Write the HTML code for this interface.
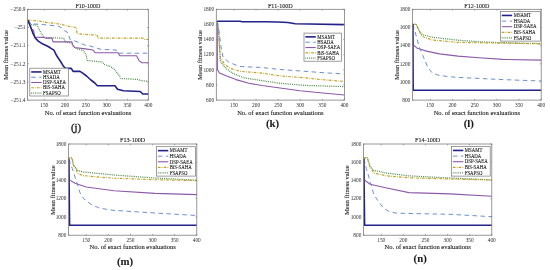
<!DOCTYPE html>
<html><head><meta charset="utf-8"><style>
html,body{margin:0;padding:0;background:#fff;}
body{width:550px;height:270px;overflow:hidden;}
svg{display:block;filter:blur(0.5px);}
</style></head><body>
<svg width="550" height="270" viewBox="0 0 550 270">
<rect width="550" height="270" fill="#fff"/>
<style>text{font-family:"Liberation Serif",serif;fill:#1a1a1a;stroke:#1a1a1a;stroke-width:0.1;paint-order:stroke;} .tk text{fill:#2a2a2a;stroke:#2a2a2a;stroke-width:0px}</style>
<clipPath id="c0"><rect x="27.6" y="8.3" width="121.20000000000002" height="91.8"/></clipPath>
<g clip-path="url(#c0)">
<polyline points="27.70,20.10 31.70,24.80 36.90,24.80 39.10,29.30 41.30,33.70 44.30,37.40 64.00,38.30 65.00,41.90 71.90,43.30 73.30,46.30 76.10,48.50 83.50,50.70 86.30,55.40 87.20,60.50 102.00,62.00 104.80,64.60 110.60,66.50 114.30,69.30 118.00,73.90 121.00,78.50 137.40,79.40 142.00,80.80 148.40,81.30" fill="none" stroke="#3b7d33" stroke-width="1.25" stroke-dasharray="0.8,1.05" stroke-linejoin="round"/>
<polyline points="27.70,20.10 39.80,21.10 47.20,22.60 54.60,23.30 60.00,24.10 67.40,26.00 76.30,27.50 77.00,33.70 90.00,34.80 97.00,35.00 98.00,38.10 143.00,38.10 144.00,39.50 148.40,39.50" fill="none" stroke="#c0a024" stroke-width="1.15" stroke-dasharray="2.6,1.2,0.8,1.2" stroke-linejoin="round"/>
<polyline points="27.70,20.10 31.70,29.30 33.60,30.20 34.60,37.20 44.30,37.40 45.50,38.10 52.00,38.10 53.00,41.90 71.90,41.90 72.50,44.50 74.50,47.50 85.40,48.90 93.00,50.00 95.00,52.60 118.00,52.80 119.80,55.70 136.50,55.70 139.30,60.90 142.00,62.80 148.40,62.80" fill="none" stroke="#8d5aa8" stroke-width="1.1" stroke-linejoin="round"/>
<polyline points="27.70,20.10 30.90,24.10 37.00,24.10 45.00,24.80 58.00,26.00 62.00,28.00 64.40,30.70 67.00,32.00 68.90,34.40 69.50,38.90 75.00,41.00 80.70,43.30 86.00,45.60 90.00,46.00 95.00,47.50 101.00,49.40 116.00,50.00 117.50,53.20 148.40,53.20" fill="none" stroke="#6b8fd0" stroke-width="1.0" stroke-dasharray="4.5,3.5" stroke-linejoin="round"/>
<polyline points="27.70,20.10 29.00,23.00 30.90,27.80 33.10,33.70 35.40,38.10 38.30,41.10 42.80,44.10 45.00,45.00 47.20,46.00 50.20,47.80 53.90,50.20 56.70,55.80 60.60,61.50 63.50,66.30 65.40,68.40 71.30,68.40 73.10,71.40 80.00,71.40 82.70,73.10 86.50,76.00 90.90,80.00 94.80,83.00 97.40,85.70 115.00,85.70 117.50,89.20 123.40,90.80 140.20,91.50 142.80,94.00 148.40,94.00" fill="none" stroke="#22228a" stroke-width="1.6" stroke-linejoin="round"/>
</g>
<rect x="27.6" y="9.3" width="120.70000000000002" height="90.8" fill="none" stroke="#767676" stroke-width="0.75"/>
<path d="M44.25,100.1v-1.3M44.25,9.3v1.3M65.06,100.1v-1.3M65.06,9.3v1.3M85.87,100.1v-1.3M85.87,9.3v1.3M106.68,100.1v-1.3M106.68,9.3v1.3M127.49,100.1v-1.3M127.49,9.3v1.3M148.30,100.1v-1.3M148.30,9.3v1.3M27.6,9.30h1.3M148.3,9.30h-1.3M27.6,27.46h1.3M148.3,27.46h-1.3M27.6,45.62h1.3M148.3,45.62h-1.3M27.6,63.78h1.3M148.3,63.78h-1.3M27.6,81.94h1.3M148.3,81.94h-1.3M27.6,100.10h1.3M148.3,100.10h-1.3" stroke="#767676" stroke-width="0.6" fill="none"/>
<g class="tk"><text transform="translate(44.25,106.70) scale(1,1.1)" text-anchor="middle" font-size="5.35">150</text><text transform="translate(65.06,106.70) scale(1,1.1)" text-anchor="middle" font-size="5.35">200</text><text transform="translate(85.87,106.70) scale(1,1.1)" text-anchor="middle" font-size="5.35">250</text><text transform="translate(106.68,106.70) scale(1,1.1)" text-anchor="middle" font-size="5.35">300</text><text transform="translate(127.49,106.70) scale(1,1.1)" text-anchor="middle" font-size="5.35">350</text><text transform="translate(148.30,106.70) scale(1,1.1)" text-anchor="middle" font-size="5.35">400</text><text transform="translate(25.40,11.05) scale(1,1.1)" text-anchor="end" font-size="5.35">−250.9</text><text transform="translate(25.40,29.21) scale(1,1.1)" text-anchor="end" font-size="5.35">−251</text><text transform="translate(25.40,47.37) scale(1,1.1)" text-anchor="end" font-size="5.35">−251.1</text><text transform="translate(25.40,65.53) scale(1,1.1)" text-anchor="end" font-size="5.35">−251.2</text><text transform="translate(25.40,83.69) scale(1,1.1)" text-anchor="end" font-size="5.35">−251.3</text><text transform="translate(25.40,101.85) scale(1,1.1)" text-anchor="end" font-size="5.35">−251.4</text></g>
<text transform="translate(87.95,7.60) scale(1,1.1)" text-anchor="middle" font-size="6.1">F10-100D</text>
<text transform="translate(87.95,114.50) scale(1,1.1)" text-anchor="middle" font-size="6.5">No. of exact function evaluations</text>
<text transform="translate(7.90,55.00) rotate(-90)" text-anchor="middle" font-size="6.6">Mean fitness value</text>
<rect x="29.8" y="68.2" width="38.50" height="27.80" fill="#fff" stroke="#767676" stroke-width="0.7"/>
<line x1="31.20" y1="71.94" x2="41.60" y2="71.94" stroke="#22228a" stroke-width="1.6"/>
<text transform="translate(43.10,73.64) scale(1,1.1)" font-size="4.8">MSAMT</text>
<line x1="31.20" y1="77.22" x2="41.60" y2="77.22" stroke="#6b8fd0" stroke-width="1.0" stroke-dasharray="4.5,3.5"/>
<text transform="translate(43.10,78.92) scale(1,1.1)" font-size="4.8">HSADA</text>
<line x1="31.20" y1="82.50" x2="41.60" y2="82.50" stroke="#8d5aa8" stroke-width="1.1"/>
<text transform="translate(43.10,84.20) scale(1,1.1)" font-size="4.8">DSP-SAEA</text>
<line x1="31.20" y1="87.78" x2="41.60" y2="87.78" stroke="#c0a024" stroke-width="1.15" stroke-dasharray="2.6,1.2,0.8,1.2"/>
<text transform="translate(43.10,89.48) scale(1,1.1)" font-size="4.8">BiS-SAHA</text>
<line x1="31.20" y1="93.06" x2="41.60" y2="93.06" stroke="#3b7d33" stroke-width="1.25" stroke-dasharray="0.8,1.05"/>
<text transform="translate(43.10,94.76) scale(1,1.1)" font-size="4.8">FSAPSO</text>
<text style="stroke-width:0.35px" x="76.00" y="131.05" text-anchor="middle" font-size="10.8">(j)</text>
<clipPath id="c1"><rect x="216.3" y="8.3" width="128.59999999999997" height="91.8"/></clipPath>
<g clip-path="url(#c1)">
<polyline points="217.20,21.20 218.50,30.00 219.40,45.00 220.30,61.10 225.00,67.60 232.40,73.10 243.50,77.80 262.00,80.60 280.00,83.30 305.00,85.40 344.40,86.60" fill="none" stroke="#3b7d33" stroke-width="1.25" stroke-dasharray="0.8,1.05" stroke-linejoin="round"/>
<polyline points="217.20,21.20 218.50,30.00 219.40,45.00 220.30,57.40 225.00,64.80 230.50,68.50 239.80,71.30 262.00,73.10 280.00,75.90 305.00,77.80 320.00,79.50 344.40,81.40" fill="none" stroke="#c0a024" stroke-width="1.15" stroke-dasharray="2.6,1.2,0.8,1.2" stroke-linejoin="round"/>
<polyline points="217.20,21.20 217.40,69.40 219.40,73.10 226.80,75.90 236.00,79.60 249.00,83.30 262.00,85.50 280.00,88.00 300.00,90.80 320.00,92.80 344.40,95.00" fill="none" stroke="#8d5aa8" stroke-width="1.1" stroke-linejoin="round"/>
<polyline points="217.20,21.20 218.00,25.00 219.50,35.00 221.00,47.00 223.10,57.40 228.70,62.00 234.20,64.40 240.00,66.50 262.00,67.50 280.00,69.50 305.00,71.30 320.00,72.50 344.40,74.00" fill="none" stroke="#6b8fd0" stroke-width="1.0" stroke-dasharray="4.5,3.5" stroke-linejoin="round"/>
<polyline points="217.20,21.20 240.00,21.30 242.00,21.70 265.00,21.80 277.60,22.00 287.80,22.50 295.20,23.70 309.00,24.00 344.40,24.60" fill="none" stroke="#22228a" stroke-width="1.6" stroke-linejoin="round"/>
</g>
<rect x="216.3" y="9.3" width="128.09999999999997" height="90.8" fill="none" stroke="#767676" stroke-width="0.75"/>
<path d="M233.97,100.1v-1.3M233.97,9.3v1.3M256.06,100.1v-1.3M256.06,9.3v1.3M278.14,100.1v-1.3M278.14,9.3v1.3M300.23,100.1v-1.3M300.23,9.3v1.3M322.31,100.1v-1.3M322.31,9.3v1.3M344.40,100.1v-1.3M344.40,9.3v1.3M216.3,100.10h1.3M344.4,100.10h-1.3M216.3,84.97h1.3M344.4,84.97h-1.3M216.3,69.83h1.3M344.4,69.83h-1.3M216.3,54.70h1.3M344.4,54.70h-1.3M216.3,39.57h1.3M344.4,39.57h-1.3M216.3,24.43h1.3M344.4,24.43h-1.3M216.3,9.30h1.3M344.4,9.30h-1.3" stroke="#767676" stroke-width="0.6" fill="none"/>
<g class="tk"><text transform="translate(233.97,106.70) scale(1,1.1)" text-anchor="middle" font-size="5.35">150</text><text transform="translate(256.06,106.70) scale(1,1.1)" text-anchor="middle" font-size="5.35">200</text><text transform="translate(278.14,106.70) scale(1,1.1)" text-anchor="middle" font-size="5.35">250</text><text transform="translate(300.23,106.70) scale(1,1.1)" text-anchor="middle" font-size="5.35">300</text><text transform="translate(322.31,106.70) scale(1,1.1)" text-anchor="middle" font-size="5.35">350</text><text transform="translate(344.40,106.70) scale(1,1.1)" text-anchor="middle" font-size="5.35">400</text><text transform="translate(214.10,101.85) scale(1,1.1)" text-anchor="end" font-size="5.35">600</text><text transform="translate(214.10,86.72) scale(1,1.1)" text-anchor="end" font-size="5.35">800</text><text transform="translate(214.10,71.58) scale(1,1.1)" text-anchor="end" font-size="5.35">1000</text><text transform="translate(214.10,56.45) scale(1,1.1)" text-anchor="end" font-size="5.35">1200</text><text transform="translate(214.10,41.32) scale(1,1.1)" text-anchor="end" font-size="5.35">1400</text><text transform="translate(214.10,26.18) scale(1,1.1)" text-anchor="end" font-size="5.35">1600</text><text transform="translate(214.10,11.05) scale(1,1.1)" text-anchor="end" font-size="5.35">1800</text></g>
<text transform="translate(280.35,7.60) scale(1,1.1)" text-anchor="middle" font-size="6.1">F11-100D</text>
<text transform="translate(280.35,114.50) scale(1,1.1)" text-anchor="middle" font-size="6.5">No. of exact function evaluations</text>
<text transform="translate(201.90,55.00) rotate(-90)" text-anchor="middle" font-size="6.6">Mean fitness value</text>
<rect x="304.0" y="33.1" width="37.40" height="28.10" fill="#fff" stroke="#767676" stroke-width="0.7"/>
<line x1="305.40" y1="36.87" x2="315.80" y2="36.87" stroke="#22228a" stroke-width="1.6"/>
<text transform="translate(317.30,38.57) scale(1,1.1)" font-size="4.8">MSAMT</text>
<line x1="305.40" y1="42.21" x2="315.80" y2="42.21" stroke="#6b8fd0" stroke-width="1.0" stroke-dasharray="4.5,3.5"/>
<text transform="translate(317.30,43.91) scale(1,1.1)" font-size="4.8">HSADA</text>
<line x1="305.40" y1="47.55" x2="315.80" y2="47.55" stroke="#8d5aa8" stroke-width="1.1"/>
<text transform="translate(317.30,49.25) scale(1,1.1)" font-size="4.8">DSP-SAEA</text>
<line x1="305.40" y1="52.89" x2="315.80" y2="52.89" stroke="#c0a024" stroke-width="1.15" stroke-dasharray="2.6,1.2,0.8,1.2"/>
<text transform="translate(317.30,54.59) scale(1,1.1)" font-size="4.8">BiS-SAHA</text>
<line x1="305.40" y1="58.23" x2="315.80" y2="58.23" stroke="#3b7d33" stroke-width="1.25" stroke-dasharray="0.8,1.05"/>
<text transform="translate(317.30,59.93) scale(1,1.1)" font-size="4.8">FSAPSO</text>
<text x="272.50" y="127.35" text-anchor="middle" font-weight="bold" font-size="10.8">(k)</text>
<clipPath id="c2"><rect x="412.5" y="8.3" width="129.20000000000005" height="91.8"/></clipPath>
<g clip-path="url(#c2)">
<polyline points="412.80,24.30 416.30,24.30 419.10,30.70 421.90,34.40 432.00,37.20 458.00,40.20 480.00,41.80 500.00,42.60 541.20,43.60" fill="none" stroke="#3b7d33" stroke-width="1.25" stroke-dasharray="0.8,1.05" stroke-linejoin="round"/>
<polyline points="412.80,24.30 416.30,24.30 419.10,30.70 421.90,36.30 432.00,40.00 458.00,42.40 500.00,43.10 541.20,43.90" fill="none" stroke="#c0a024" stroke-width="1.15" stroke-dasharray="2.6,1.2,0.8,1.2" stroke-linejoin="round"/>
<polyline points="412.80,24.30 413.00,44.60 417.30,48.30 426.50,51.10 439.50,53.90 458.00,56.10 479.00,57.70 503.00,59.40 541.20,60.10" fill="none" stroke="#8d5aa8" stroke-width="1.1" stroke-linejoin="round"/>
<polyline points="412.80,24.30 414.50,29.80 419.10,46.50 422.80,55.70 426.50,64.00 427.40,67.00 432.00,72.60 437.60,75.00 448.70,76.70 458.00,77.40 500.00,79.50 541.20,81.00" fill="none" stroke="#6b8fd0" stroke-width="1.0" stroke-dasharray="4.5,3.5" stroke-linejoin="round"/>
<polyline points="412.80,24.30 413.20,90.30 541.20,90.30" fill="none" stroke="#22228a" stroke-width="1.6" stroke-linejoin="round"/>
</g>
<rect x="412.5" y="9.3" width="128.70000000000005" height="90.8" fill="none" stroke="#767676" stroke-width="0.75"/>
<path d="M430.25,100.1v-1.3M430.25,9.3v1.3M452.44,100.1v-1.3M452.44,9.3v1.3M474.63,100.1v-1.3M474.63,9.3v1.3M496.82,100.1v-1.3M496.82,9.3v1.3M519.01,100.1v-1.3M519.01,9.3v1.3M541.20,100.1v-1.3M541.20,9.3v1.3M412.5,100.10h1.3M541.2,100.10h-1.3M412.5,81.94h1.3M541.2,81.94h-1.3M412.5,63.78h1.3M541.2,63.78h-1.3M412.5,45.62h1.3M541.2,45.62h-1.3M412.5,27.46h1.3M541.2,27.46h-1.3M412.5,9.30h1.3M541.2,9.30h-1.3" stroke="#767676" stroke-width="0.6" fill="none"/>
<g class="tk"><text transform="translate(430.25,106.70) scale(1,1.1)" text-anchor="middle" font-size="5.35">150</text><text transform="translate(452.44,106.70) scale(1,1.1)" text-anchor="middle" font-size="5.35">200</text><text transform="translate(474.63,106.70) scale(1,1.1)" text-anchor="middle" font-size="5.35">250</text><text transform="translate(496.82,106.70) scale(1,1.1)" text-anchor="middle" font-size="5.35">300</text><text transform="translate(519.01,106.70) scale(1,1.1)" text-anchor="middle" font-size="5.35">350</text><text transform="translate(541.20,106.70) scale(1,1.1)" text-anchor="middle" font-size="5.35">400</text><text transform="translate(410.30,101.85) scale(1,1.1)" text-anchor="end" font-size="5.35">800</text><text transform="translate(410.30,83.69) scale(1,1.1)" text-anchor="end" font-size="5.35">1000</text><text transform="translate(410.30,65.53) scale(1,1.1)" text-anchor="end" font-size="5.35">1200</text><text transform="translate(410.30,47.37) scale(1,1.1)" text-anchor="end" font-size="5.35">1400</text><text transform="translate(410.30,29.21) scale(1,1.1)" text-anchor="end" font-size="5.35">1600</text><text transform="translate(410.30,11.05) scale(1,1.1)" text-anchor="end" font-size="5.35">1800</text></g>
<text transform="translate(476.85,7.60) scale(1,1.1)" text-anchor="middle" font-size="6.1">F12-100D</text>
<text transform="translate(476.85,114.50) scale(1,1.1)" text-anchor="middle" font-size="6.5">No. of exact function evaluations</text>
<text transform="translate(399.10,55.00) rotate(-90)" text-anchor="middle" font-size="6.6">Mean fitness value</text>
<rect x="500.4" y="11.5" width="40.00" height="29.60" fill="#fff" stroke="#767676" stroke-width="0.7"/>
<line x1="501.80" y1="15.45" x2="512.20" y2="15.45" stroke="#22228a" stroke-width="1.6"/>
<text transform="translate(513.70,17.15) scale(1,1.1)" font-size="4.8">MSAMT</text>
<line x1="501.80" y1="21.08" x2="512.20" y2="21.08" stroke="#6b8fd0" stroke-width="1.0" stroke-dasharray="4.5,3.5"/>
<text transform="translate(513.70,22.78) scale(1,1.1)" font-size="4.8">HSADA</text>
<line x1="501.80" y1="26.70" x2="512.20" y2="26.70" stroke="#8d5aa8" stroke-width="1.1"/>
<text transform="translate(513.70,28.40) scale(1,1.1)" font-size="4.8">DSP-SAEA</text>
<line x1="501.80" y1="32.32" x2="512.20" y2="32.32" stroke="#c0a024" stroke-width="1.15" stroke-dasharray="2.6,1.2,0.8,1.2"/>
<text transform="translate(513.70,34.02) scale(1,1.1)" font-size="4.8">BiS-SAHA</text>
<line x1="501.80" y1="37.95" x2="512.20" y2="37.95" stroke="#3b7d33" stroke-width="1.25" stroke-dasharray="0.8,1.05"/>
<text transform="translate(513.70,39.65) scale(1,1.1)" font-size="4.8">FSAPSO</text>
<text x="468.80" y="126.55" text-anchor="middle" font-weight="bold" font-size="10.8">(l)</text>
<clipPath id="c3"><rect x="68.5" y="143.0" width="128.8" height="92.19999999999999"/></clipPath>
<g clip-path="url(#c3)">
<polyline points="68.80,159.30 69.00,157.80 72.00,157.80 73.30,164.80 77.90,170.40 82.50,171.90 114.00,175.00 155.00,178.00 196.80,180.20" fill="none" stroke="#3b7d33" stroke-width="1.25" stroke-dasharray="0.8,1.05" stroke-linejoin="round"/>
<polyline points="68.80,159.30 69.00,157.80 72.00,157.80 73.30,164.80 77.90,173.30 82.50,175.50 100.00,177.20 114.00,178.20 155.00,179.70 196.80,180.60" fill="none" stroke="#c0a024" stroke-width="1.15" stroke-dasharray="2.6,1.2,0.8,1.2" stroke-linejoin="round"/>
<polyline points="68.80,159.30 69.00,179.60 75.10,183.30 86.20,187.00 114.00,190.70 155.00,193.40 196.80,194.60" fill="none" stroke="#8d5aa8" stroke-width="1.1" stroke-linejoin="round"/>
<polyline points="68.80,159.30 72.30,168.50 77.00,183.30 79.70,192.00 82.00,196.50 85.30,200.20 90.90,204.20 98.30,207.60 106.60,209.40 114.00,210.40 155.00,213.00 196.80,215.50" fill="none" stroke="#6b8fd0" stroke-width="1.0" stroke-dasharray="4.5,3.5" stroke-linejoin="round"/>
<polyline points="68.80,159.30 69.60,225.20 196.80,225.20" fill="none" stroke="#22228a" stroke-width="1.6" stroke-linejoin="round"/>
</g>
<rect x="68.5" y="144.0" width="128.3" height="91.19999999999999" fill="none" stroke="#767676" stroke-width="0.75"/>
<path d="M86.20,235.2v-1.3M86.20,144.0v1.3M108.32,235.2v-1.3M108.32,144.0v1.3M130.44,235.2v-1.3M130.44,144.0v1.3M152.56,235.2v-1.3M152.56,144.0v1.3M174.68,235.2v-1.3M174.68,144.0v1.3M196.80,235.2v-1.3M196.80,144.0v1.3M68.5,235.20h1.3M196.8,235.20h-1.3M68.5,216.96h1.3M196.8,216.96h-1.3M68.5,198.72h1.3M196.8,198.72h-1.3M68.5,180.48h1.3M196.8,180.48h-1.3M68.5,162.24h1.3M196.8,162.24h-1.3M68.5,144.00h1.3M196.8,144.00h-1.3" stroke="#767676" stroke-width="0.6" fill="none"/>
<g class="tk"><text transform="translate(86.20,241.80) scale(1,1.1)" text-anchor="middle" font-size="5.3">150</text><text transform="translate(108.32,241.80) scale(1,1.1)" text-anchor="middle" font-size="5.3">200</text><text transform="translate(130.44,241.80) scale(1,1.1)" text-anchor="middle" font-size="5.3">250</text><text transform="translate(152.56,241.80) scale(1,1.1)" text-anchor="middle" font-size="5.3">300</text><text transform="translate(174.68,241.80) scale(1,1.1)" text-anchor="middle" font-size="5.3">350</text><text transform="translate(196.80,241.80) scale(1,1.1)" text-anchor="middle" font-size="5.3">400</text><text transform="translate(66.30,236.95) scale(1,1.1)" text-anchor="end" font-size="5.3">800</text><text transform="translate(66.30,218.71) scale(1,1.1)" text-anchor="end" font-size="5.3">1000</text><text transform="translate(66.30,200.47) scale(1,1.1)" text-anchor="end" font-size="5.3">1200</text><text transform="translate(66.30,182.23) scale(1,1.1)" text-anchor="end" font-size="5.3">1400</text><text transform="translate(66.30,163.99) scale(1,1.1)" text-anchor="end" font-size="5.3">1600</text><text transform="translate(66.30,145.75) scale(1,1.1)" text-anchor="end" font-size="5.3">1800</text></g>
<text transform="translate(132.65,142.30) scale(1,1.1)" text-anchor="middle" font-size="6.1">F13-100D</text>
<text transform="translate(132.65,249.20) scale(1,1.1)" text-anchor="middle" font-size="6.5">No. of exact function evaluations</text>
<text transform="translate(55.00,190.20) rotate(-90)" text-anchor="middle" font-size="6.6">Mean fitness value</text>
<rect x="156.5" y="146.7" width="38.90" height="29.40" fill="#fff" stroke="#767676" stroke-width="0.7"/>
<line x1="157.90" y1="150.63" x2="168.30" y2="150.63" stroke="#22228a" stroke-width="1.6"/>
<text transform="translate(169.80,152.33) scale(1,1.1)" font-size="4.8">MSAMT</text>
<line x1="157.90" y1="156.21" x2="168.30" y2="156.21" stroke="#6b8fd0" stroke-width="1.0" stroke-dasharray="4.5,3.5"/>
<text transform="translate(169.80,157.91) scale(1,1.1)" font-size="4.8">HSADA</text>
<line x1="157.90" y1="161.80" x2="168.30" y2="161.80" stroke="#8d5aa8" stroke-width="1.1"/>
<text transform="translate(169.80,163.50) scale(1,1.1)" font-size="4.8">DSP-SAEA</text>
<line x1="157.90" y1="167.39" x2="168.30" y2="167.39" stroke="#c0a024" stroke-width="1.15" stroke-dasharray="2.6,1.2,0.8,1.2"/>
<text transform="translate(169.80,169.09) scale(1,1.1)" font-size="4.8">BiS-SAHA</text>
<line x1="157.90" y1="172.97" x2="168.30" y2="172.97" stroke="#3b7d33" stroke-width="1.25" stroke-dasharray="0.8,1.05"/>
<text transform="translate(169.80,174.67) scale(1,1.1)" font-size="4.8">FSAPSO</text>
<text x="125.10" y="265.25" text-anchor="middle" font-weight="bold" font-size="10.8">(m)</text>
<clipPath id="c4"><rect x="363.5" y="143.0" width="128.8" height="92.19999999999999"/></clipPath>
<g clip-path="url(#c4)">
<polyline points="363.80,158.70 364.00,157.80 367.30,157.80 370.10,166.70 373.80,170.40 386.80,173.10 409.00,175.90 450.00,178.00 491.80,179.90" fill="none" stroke="#3b7d33" stroke-width="1.25" stroke-dasharray="0.8,1.05" stroke-linejoin="round"/>
<polyline points="363.80,158.70 364.00,157.80 367.30,157.80 370.10,166.70 373.80,173.10 386.80,175.90 409.00,177.80 450.00,179.00 491.80,180.00" fill="none" stroke="#c0a024" stroke-width="1.15" stroke-dasharray="2.6,1.2,0.8,1.2" stroke-linejoin="round"/>
<polyline points="363.80,158.70 364.00,179.60 370.10,184.30 386.80,188.00 409.00,192.60 450.00,193.90 491.80,196.30" fill="none" stroke="#8d5aa8" stroke-width="1.1" stroke-linejoin="round"/>
<polyline points="363.80,158.70 366.40,168.50 370.10,181.50 373.80,194.40 377.50,200.20 383.10,207.60 388.60,211.30 396.00,213.10 409.00,213.50 450.00,214.30 491.80,216.70" fill="none" stroke="#6b8fd0" stroke-width="1.0" stroke-dasharray="4.5,3.5" stroke-linejoin="round"/>
<polyline points="363.80,158.70 364.60,225.20 491.80,225.20" fill="none" stroke="#22228a" stroke-width="1.6" stroke-linejoin="round"/>
</g>
<rect x="363.5" y="144.0" width="128.3" height="91.19999999999999" fill="none" stroke="#767676" stroke-width="0.75"/>
<path d="M381.20,235.2v-1.3M381.20,144.0v1.3M403.32,235.2v-1.3M403.32,144.0v1.3M425.44,235.2v-1.3M425.44,144.0v1.3M447.56,235.2v-1.3M447.56,144.0v1.3M469.68,235.2v-1.3M469.68,144.0v1.3M491.80,235.2v-1.3M491.80,144.0v1.3M363.5,235.20h1.3M491.8,235.20h-1.3M363.5,216.96h1.3M491.8,216.96h-1.3M363.5,198.72h1.3M491.8,198.72h-1.3M363.5,180.48h1.3M491.8,180.48h-1.3M363.5,162.24h1.3M491.8,162.24h-1.3M363.5,144.00h1.3M491.8,144.00h-1.3" stroke="#767676" stroke-width="0.6" fill="none"/>
<g class="tk"><text transform="translate(381.20,241.80) scale(1,1.1)" text-anchor="middle" font-size="5.3">150</text><text transform="translate(403.32,241.80) scale(1,1.1)" text-anchor="middle" font-size="5.3">200</text><text transform="translate(425.44,241.80) scale(1,1.1)" text-anchor="middle" font-size="5.3">250</text><text transform="translate(447.56,241.80) scale(1,1.1)" text-anchor="middle" font-size="5.3">300</text><text transform="translate(469.68,241.80) scale(1,1.1)" text-anchor="middle" font-size="5.3">350</text><text transform="translate(491.80,241.80) scale(1,1.1)" text-anchor="middle" font-size="5.3">400</text><text transform="translate(361.30,236.95) scale(1,1.1)" text-anchor="end" font-size="5.3">800</text><text transform="translate(361.30,218.71) scale(1,1.1)" text-anchor="end" font-size="5.3">1000</text><text transform="translate(361.30,200.47) scale(1,1.1)" text-anchor="end" font-size="5.3">1200</text><text transform="translate(361.30,182.23) scale(1,1.1)" text-anchor="end" font-size="5.3">1400</text><text transform="translate(361.30,163.99) scale(1,1.1)" text-anchor="end" font-size="5.3">1600</text><text transform="translate(361.30,145.75) scale(1,1.1)" text-anchor="end" font-size="5.3">1800</text></g>
<text transform="translate(427.65,142.30) scale(1,1.1)" text-anchor="middle" font-size="6.1">F14-100D</text>
<text transform="translate(427.65,249.20) scale(1,1.1)" text-anchor="middle" font-size="6.5">No. of exact function evaluations</text>
<text transform="translate(349.30,190.20) rotate(-90)" text-anchor="middle" font-size="6.6">Mean fitness value</text>
<rect x="451.5" y="146.5" width="38.70" height="29.60" fill="#fff" stroke="#767676" stroke-width="0.7"/>
<line x1="452.90" y1="150.45" x2="463.30" y2="150.45" stroke="#22228a" stroke-width="1.6"/>
<text transform="translate(464.80,152.15) scale(1,1.1)" font-size="4.8">MSAMT</text>
<line x1="452.90" y1="156.08" x2="463.30" y2="156.08" stroke="#6b8fd0" stroke-width="1.0" stroke-dasharray="4.5,3.5"/>
<text transform="translate(464.80,157.78) scale(1,1.1)" font-size="4.8">HSADA</text>
<line x1="452.90" y1="161.70" x2="463.30" y2="161.70" stroke="#8d5aa8" stroke-width="1.1"/>
<text transform="translate(464.80,163.40) scale(1,1.1)" font-size="4.8">DSP-SAEA</text>
<line x1="452.90" y1="167.32" x2="463.30" y2="167.32" stroke="#c0a024" stroke-width="1.15" stroke-dasharray="2.6,1.2,0.8,1.2"/>
<text transform="translate(464.80,169.02) scale(1,1.1)" font-size="4.8">BiS-SAHA</text>
<line x1="452.90" y1="172.95" x2="463.30" y2="172.95" stroke="#3b7d33" stroke-width="1.25" stroke-dasharray="0.8,1.05"/>
<text transform="translate(464.80,174.65) scale(1,1.1)" font-size="4.8">FSAPSO</text>
<text x="420.20" y="261.75" text-anchor="middle" font-weight="bold" font-size="10.8">(n)</text>
</svg>
</body></html>
